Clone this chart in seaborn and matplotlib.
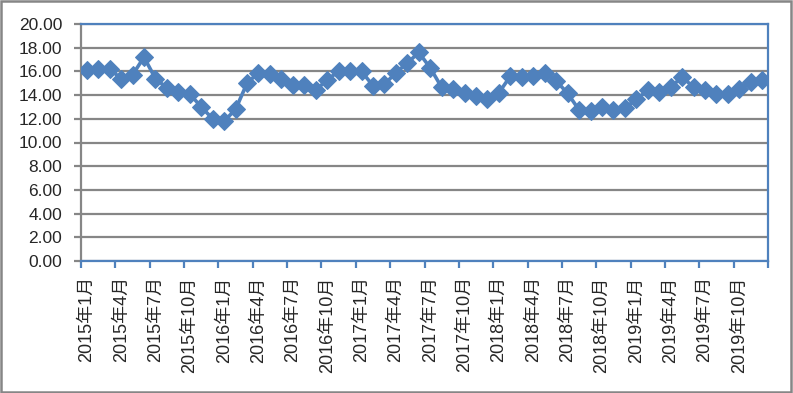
import matplotlib
matplotlib.use("Agg")
import matplotlib.pyplot as plt
import seaborn as sns
import pandas as pd
from matplotlib.patches import Rectangle
from matplotlib.ticker import FormatStrFormatter, FixedLocator

# 2015年1月 - 2019年12月, monthly
years = [2015, 2016, 2017, 2018, 2019]
months = list(range(1, 13))
values = [
    16.1, 16.2, 16.2, 15.4, 15.7, 17.2, 15.4, 14.6, 14.3, 14.1, 13.0, 12.0,
    11.8, 12.8, 15.0, 15.9, 15.8, 15.4, 14.85, 14.85, 14.4, 15.3, 16.0, 16.0,
    16.0, 14.8, 14.9, 15.9, 16.7, 17.6, 16.3, 14.65, 14.5, 14.15, 13.9, 13.7,
    14.2, 15.6, 15.55, 15.6, 15.9, 15.2, 14.15, 12.75, 12.7, 13.0, 12.75, 12.9,
    13.65, 14.4, 14.3, 14.65, 15.55, 14.65, 14.4, 14.1, 14.1, 14.5, 15.1, 15.3,
]

labels = [f"{y}年{m}月" for y in years for m in months]
df = pd.DataFrame({"idx": range(len(values)), "val": values, "label": labels})

sns.set_style("white")
plt.rcParams["font.family"] = ["Liberation Sans", "Noto Sans CJK SC", "DejaVu Sans"]

blue = "#4F81BD"
gray = "#868686"

fig = plt.figure(figsize=(7.93, 3.93), dpi=100)
ax = fig.add_axes([81 / 793, 1 - 261 / 393, 687 / 793, 237 / 393])

sns.lineplot(data=df, x="idx", y="val", ax=ax, color=blue, linewidth=2.6,
             marker="D", markersize=9, markeredgecolor=blue, zorder=3)

ax.set_xlim(-0.5, len(values) - 0.5)
ax.set_ylim(0, 20)
ax.set_yticks(range(0, 21, 2))
ax.yaxis.set_major_formatter(FormatStrFormatter("%.2f"))
ax.grid(axis="y", color=gray, linewidth=1.6, zorder=0)
ax.set_axisbelow(True)

# labels on every 3rd month, tick marks between categories
ax.set_xticks(df["idx"][::3])
ax.set_xticklabels(df["label"][::3], rotation=90, fontsize=13)
ax.xaxis.set_minor_locator(FixedLocator([i - 0.5 for i in range(0, len(values) + 1, 3)]))
ax.tick_params(axis="x", which="major", length=0, pad=11)
ax.tick_params(axis="x", which="minor", length=5, width=1.6, color=blue, bottom=True)
ax.tick_params(axis="y", length=5, width=1.6, color=gray, labelsize=12.5, pad=8.5, left=True)
ax.set_xlabel("")
ax.set_ylabel("")

for s in ["top", "right", "bottom"]:
    ax.spines[s].set_color(blue)
    ax.spines[s].set_linewidth(1.6)
ax.spines["left"].set_color(gray)
ax.spines["left"].set_linewidth(1.6)

fig.patches.append(Rectangle((0.001, 0.003), 0.996, 0.994, transform=fig.transFigure,
                             fill=False, edgecolor=gray, linewidth=1.8))

fig.savefig("out.png", dpi=100)
